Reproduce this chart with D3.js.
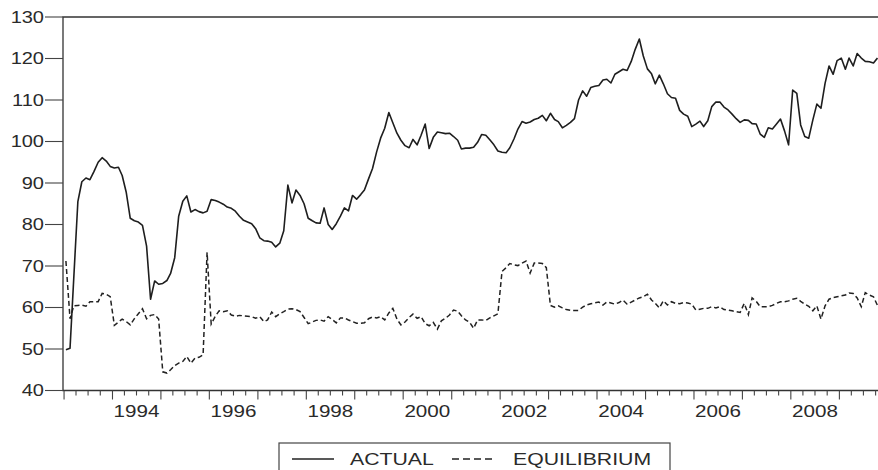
<!DOCTYPE html>
<html>
<head>
<meta charset="utf-8">
<script src="https://cdn.jsdelivr.net/npm/d3@7"></script>
<style>
    body { margin: 0; background: #fff; }
    svg { display: block; }
    text { font-family: "Liberation Sans", Arial, sans-serif; fill: #2a2a2a; }
</style>
</head>
<body>
<svg width="878" height="470"></svg>
<script>
// monthly observations, 1993M01 .. 2009M10
const startYear = 1993;

const actual = [
    49.8, 50.2, 67.0, 85.5, 90.3, 91.2, 90.8, 92.8, 95.0, 96.1, 95.3, 94.0,   // 1993
    93.6, 93.8, 91.8, 87.7, 81.5, 80.9, 80.6, 79.8, 74.8, 62.0, 66.4, 65.6,   // 1994
    65.8, 66.5, 68.2, 72.0, 82.0, 85.6, 86.9, 83.0, 83.6, 83.1, 82.8, 83.2,   // 1995
    86.0, 85.8, 85.4, 84.9, 84.2, 83.9, 83.2, 82.0, 81.0, 80.6, 80.2, 79.0,   // 1996
    76.8, 76.1, 76.0, 75.7, 74.6, 75.5, 78.5, 89.5, 85.2, 88.3, 87.0, 85.0,   // 1997
    81.5, 80.9, 80.4, 80.3, 84.0, 80.0, 78.8, 80.2, 82.0, 84.0, 83.3, 87.0,   // 1998
    86.1, 87.2, 88.3, 91.0, 93.5, 97.5, 100.8, 103.2, 107.0, 104.5, 102.0, 100.3, // 1999
    99.0, 98.5, 100.5, 99.2, 101.5, 104.2, 98.3, 101.0, 102.3, 102.1, 101.9, 102.0, // 2000
    101.2, 100.3, 98.2, 98.4, 98.4, 98.6, 99.8, 101.7, 101.5, 100.4, 99.2, 97.7, // 2001
    97.4, 97.3, 98.5, 100.6, 103.0, 104.8, 104.4, 104.7, 105.3, 105.6, 106.3, 105.0, // 2002
    106.8, 105.3, 104.8, 103.3, 103.9, 104.6, 105.5, 110.0, 112.2, 110.9, 113.0, 113.3, // 2003
    113.5, 114.8, 115.0, 114.1, 116.2, 116.8, 117.4, 117.1, 119.3, 122.2, 124.7, 120.6, // 2004
    117.5, 116.3, 113.9, 116.0, 113.9, 111.5, 110.6, 110.4, 107.5, 106.6, 106.1, 103.6, // 2005
    104.2, 104.9, 103.6, 105.0, 108.4, 109.5, 109.5, 108.3, 107.6, 106.6, 105.5, 104.6, // 2006
    105.2, 105.1, 104.3, 104.2, 101.8, 101.0, 103.3, 103.0, 104.2, 105.4, 102.5, 99.2, // 2007
    112.4, 111.6, 104.0, 101.2, 100.8, 105.2, 109.0, 108.0, 114.0, 118.2, 116.2, 119.5, // 2008
    120.1, 117.4, 120.1, 118.2, 121.2, 120.1, 119.3, 119.2, 118.9, 120.1              // 2009
];

const equilibrium = [
    71.2, 57.3, 60.4, 60.5, 60.6, 60.3, 61.4, 61.4, 61.4, 63.4, 63.2, 62.6,   // 1993
    55.7, 56.5, 57.2, 56.6, 55.8, 57.3, 58.5, 59.7, 57.3, 58.1, 58.3, 57.2,   // 1994
    44.5, 44.2, 45.0, 46.0, 46.6, 47.0, 48.2, 46.6, 47.8, 48.0, 48.6, 73.3,   // 1995
    56.0, 57.9, 59.2, 59.0, 59.2, 58.2, 57.9, 58.1, 58.0, 57.9, 57.8, 57.4,   // 1996
    57.8, 56.6, 57.0, 58.9, 57.8, 58.5, 59.0, 59.6, 59.7, 59.5, 59.0, 57.6,   // 1997
    56.1, 56.5, 56.9, 57.0, 56.7, 57.8, 57.1, 56.3, 57.5, 57.5, 57.0, 56.6,   // 1998
    56.2, 56.2, 56.3, 57.3, 57.7, 57.5, 57.8, 57.0, 58.7, 59.8, 57.2, 55.8,   // 1999
    56.5, 57.6, 58.4, 57.4, 57.8, 56.1, 55.6, 56.4, 54.8, 56.8, 57.4, 58.2,   // 2000
    59.4, 59.1, 58.0, 57.0, 56.5, 55.0, 57.0, 57.0, 56.9, 57.5, 58.0, 58.5,   // 2001
    68.7, 69.6, 70.6, 70.3, 70.1, 70.7, 71.2, 68.3, 70.7, 70.7, 70.6, 69.6,   // 2002
    60.5, 60.1, 60.4, 59.9, 59.5, 59.3, 59.3, 59.3, 60.1, 60.6, 60.9, 61.1,   // 2003
    61.3, 60.6, 61.3, 61.1, 60.8, 61.2, 61.8, 60.8, 61.3, 61.8, 62.3, 62.6,   // 2004
    63.2, 61.8, 61.0, 59.9, 61.6, 60.6, 61.4, 61.0, 60.9, 61.2, 61.1, 60.8,   // 2005
    59.4, 59.6, 59.8, 59.8, 60.2, 59.9, 60.2, 59.5, 59.4, 59.2, 59.0, 58.8,   // 2006
    61.0, 58.3, 62.3, 61.5, 60.2, 60.2, 60.2, 60.5, 61.0, 61.4, 61.4, 61.6,   // 2007
    62.0, 62.2, 61.5, 60.8, 60.3, 59.2, 60.4, 57.2, 60.4, 62.0, 62.4, 62.6,   // 2008
    62.8, 63.0, 63.5, 63.4, 62.3, 60.2, 63.6, 63.0, 62.6, 60.5                // 2009
];

const yTicks = [40, 50, 60, 70, 80, 90, 100, 110, 120, 130];
const yearLabels = [1994, 1996, 1998, 2000, 2002, 2004, 2006, 2008];
const legendNames = ["ACTUAL", "EQUILIBRIUM"];

const svg = d3.select("svg");
const plotL = 63, plotR = 878, plotT = 17, plotB = 390.5;
const stretch = 1.25; // glyphs in the source are wider than tall

// month i sits in the middle of its month
const dates = actual.map((v, i) => new Date(startYear, i, 15));

const x = d3.scaleTime()
    .domain([new Date(1992, 11, 24), new Date(2009, 9, 19)])
    .range([plotL, plotR]);
const y = d3.scaleLinear().domain([40, 130]).range([plotB, plotT]);

// frame: left axis, top, bottom
svg.append("path")
    .attr("d", `M${plotR},${plotT}H${plotL}V${plotB}H${plotR}`)
    .attr("fill", "none")
    .attr("stroke", "#333")
    .attr("stroke-width", 1.3);

// y ticks & labels
const yg = svg.append("g");
yg.selectAll("line").data(yTicks).enter().append("line")
    .attr("x1", 45).attr("x2", plotL)
    .attr("y1", d => y(d)).attr("y2", d => y(d))
    .attr("stroke", "#444").attr("stroke-width", 1.1);
yg.selectAll("text").data(yTicks).enter().append("text")
    .attr("transform", d => `translate(44,${y(d)}) scale(${stretch},1)`)
    .attr("text-anchor", "end")
    .attr("dy", "0.36em")
    .attr("font-size", 16)
    .text(d => d);

// x ticks: years long, quarters short
const xg = svg.append("g");
const quarters = d3.timeMonth.every(3).range(x.domain()[0], x.domain()[1]);
xg.selectAll("line").data(quarters).enter().append("line")
    .attr("x1", d => x(d)).attr("x2", d => x(d))
    .attr("y1", plotB)
    .attr("y2", d => plotB + (d.getMonth() === 0 ? 9 : 5))
    .attr("stroke", "#444").attr("stroke-width", 1.1);
xg.selectAll("text").data(yearLabels).enter().append("text")
    .attr("transform", d => `translate(${x(new Date(d, 6, 1))},417) scale(${stretch},1)`)
    .attr("text-anchor", "middle")
    .attr("font-size", 16.5)
    .text(d => d);

// series
const line = d3.line()
    .x((d, i) => x(dates[i]))
    .y(d => y(d));

svg.append("path")
    .datum(equilibrium)
    .attr("d", line)
    .attr("fill", "none")
    .attr("stroke", "#222")
    .attr("stroke-width", 1.5)
    .attr("stroke-dasharray", "5,3");

svg.append("path")
    .datum(actual)
    .attr("d", line)
    .attr("fill", "none")
    .attr("stroke", "#1e1e1e")
    .attr("stroke-width", 1.6)
    .attr("stroke-linejoin", "round");

// legend
const lg = svg.append("g");
lg.append("rect")
    .attr("x", 279).attr("y", 443)
    .attr("width", 391).attr("height", 40)
    .attr("fill", "#fff")
    .attr("stroke", "#444").attr("stroke-width", 1.2);
lg.append("line")
    .attr("x1", 292).attr("x2", 334).attr("y1", 459).attr("y2", 459)
    .attr("stroke", "#222").attr("stroke-width", 1.5);
lg.append("line")
    .attr("x1", 452).attr("x2", 496).attr("y1", 459).attr("y2", 459)
    .attr("stroke", "#222").attr("stroke-width", 1.5)
    .attr("stroke-dasharray", "7,4");
lg.selectAll("text").data(legendNames).enter().append("text")
    .attr("transform", (d, i) => `translate(${i ? 513 : 350},464.5) scale(${stretch},1)`)
    .attr("font-size", 17)
    .text(d => d);
</script>
</body>
</html>
